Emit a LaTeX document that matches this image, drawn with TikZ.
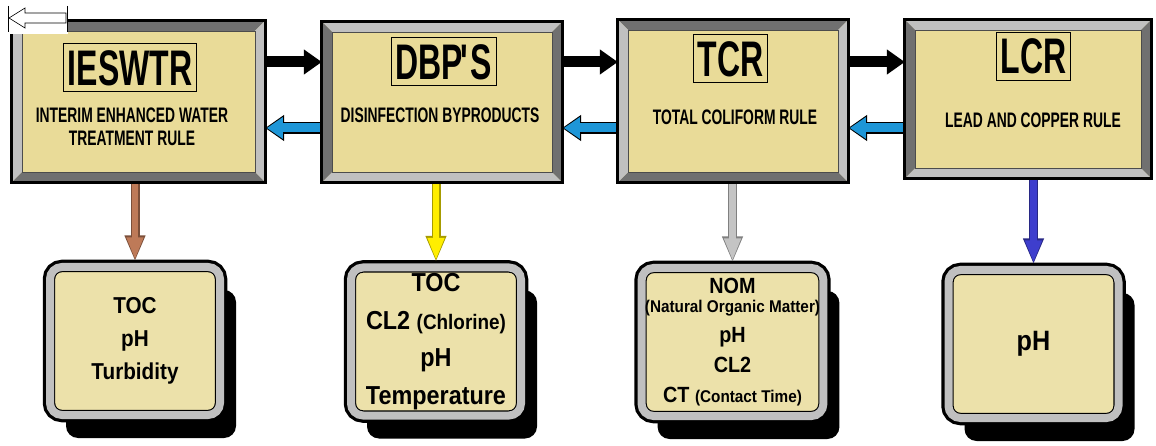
\documentclass[tikz,border=0pt]{standalone}
\usepackage{fontspec}
\setmainfont{Liberation Sans}
\newfontfamily\titlefont{Liberation Sans Bold}[FakeStretch=0.64]
\newfontfamily\rulefont{Liberation Sans Bold}[FakeStretch=0.66]
\newfontfamily\listfont{Liberation Sans Bold}[FakeStretch=0.9]
\usetikzlibrary{arrows.meta,shadows}

\definecolor{panel}{RGB}{233,219,152}
\definecolor{listpanel}{RGB}{236,225,170}
\definecolor{bevdark}{RGB}{112,112,112}
\definecolor{bevlight}{RGB}{192,192,192}
\definecolor{backblue}{RGB}{30,150,215}
\definecolor{arrbrown}{RGB}{190,122,88}
\definecolor{arryellow}{RGB}{255,238,0}
\definecolor{arrgrey}{RGB}{196,196,196}
\definecolor{arrblue}{RGB}{62,62,205}

\begin{document}
\begin{tikzpicture}[x=1pt,y=-1pt,
  rulebox/.style={fill=panel,inner sep=0pt},
  rulename/.style={draw,line width=.6pt,inner xsep=4pt,inner ysep=6pt,
    text height=36pt,text depth=0pt,font=\titlefont\fontsize{50}{50}\selectfont},
  ruletext/.style={align=center,font=\rulefont\fontsize{21}{23.5}\selectfont},
  listbox/.style={draw,line width=1.1pt,double=bevlight,double distance=8pt,
    fill=listpanel,rounded corners=12pt,align=center,
    minimum width=170pt,minimum height=148pt,
    font=\listfont\fontsize{23}{33}\selectfont,
    drop shadow={shadow xshift=16pt,shadow yshift=-23pt,fill=black,opacity=1},
    preaction={draw,line width=14.5pt}},
  fwd/.style={line width=11pt,-{Triangle[width=24pt,length=18pt]}},
  backedge/.style={line width=12pt,-{Triangle[width=25pt,length=19pt]}},
  backfill/.style={backblue,line width=9pt,shorten >=1.6pt,
    -{Triangle[width=20.5pt,length=16pt]}},
  downedge/.style={line width=9pt,shorten >=5pt,
    -{Triangle[width=19pt,length=26pt]}},
  downfill/.style={line width=6.5pt,shorten >=6.6pt,
    -{Triangle[width=15.5pt,length=22.5pt]}}]
  \useasboundingbox (0,0) rectangle (1156,446);

  % rule boxes
  \node[rulebox,minimum width=253pt,minimum height=161pt] (ies) at (138.5,101.5) {};
  \node[rulebox,minimum width=240pt,minimum height=160pt] (dbp) at (442,102) {};
  \node[rulebox,minimum width=230pt,minimum height=162pt] (tcr) at (733,101) {};
  \node[rulebox,minimum width=246pt,minimum height=158pt] (lcr) at (1028,99) {};

  % parameter boxes
  \node[listbox] (t1) at (135,341) {TOC\\pH\\Turbidity};
  \node[listbox,font=\listfont\fontsize{26}{37.5}\selectfont] (t2) at (436,341.5)
    {TOC\\CL2 {\fontsize{21}{21}\selectfont(Chlorine)}\\pH\\Temperature};
  \node[listbox,font=\listfont\fontsize{22}{30}\selectfont] (t3) at (732.5,342)
    {NOM\\[-11pt]{\fontsize{17}{17}\selectfont(Natural Organic Matter)}\\pH\\CL2\\
     CT {\fontsize{17}{17}\selectfont(Contact Time)}};
  \node[listbox,font=\listfont\fontsize{28}{30}\selectfont] (t4) at (1033.5,344) {pH};

  \coordinate (fwdrow) at (0,62);
  \coordinate (backrow) at (0,128);
  \foreach \a/\b in {ies/dbp,dbp/tcr,tcr/lcr} {
    \draw[fwd] (\a.east |- fwdrow) -- (\b.west |- fwdrow);
    \draw[backedge] (\b.west |- backrow) -- (\a.east |- backrow);
    \draw[backfill] (\b.west |- backrow) -- (\a.east |- backrow);
  }
  \foreach \a/\b/\c in {ies/t1/arrbrown,dbp/t2/arryellow,tcr/t3/arrgrey,lcr/t4/arrblue} {
    \draw[downedge,\c!65!black] (\a.south -| \b.north) -- (\b.north);
    \draw[downfill,\c] (\a.south -| \b.north) -- (\b.north);
  }

  % bevelled frames
  \foreach \nm/\tc/\sc in {ies/bevdark/bevlight,dbp/bevlight/bevdark,
                           tcr/bevdark/bevlight,lcr/bevlight/bevdark} {
    \fill[\tc] (\nm.north west) -- (\nm.north east) -- ([shift={(-10,10)}]\nm.north east)
      -- ([shift={(10,10)}]\nm.north west) -- cycle;
    \fill[\tc] (\nm.south west) -- (\nm.south east) -- ([shift={(-10,-10)}]\nm.south east)
      -- ([shift={(10,-10)}]\nm.south west) -- cycle;
    \fill[\sc] (\nm.north west) -- (\nm.south west) -- ([shift={(10,-10)}]\nm.south west)
      -- ([shift={(10,10)}]\nm.north west) -- cycle;
    \fill[\sc] (\nm.north east) -- (\nm.south east) -- ([shift={(-10,-10)}]\nm.south east)
      -- ([shift={(-10,10)}]\nm.north east) -- cycle;
    \draw[line width=.5pt,black!70] ([shift={(10,10)}]\nm.north west)
      rectangle ([shift={(-10,-10)}]\nm.south east);
    \draw[line width=3pt] (\nm.north west) rectangle (\nm.south east);
  }

  \node[rulename] (iesN) at (130,67.5) {IESWTR};
  \node[ruletext] (iesT) at (132,127) {INTERIM ENHANCED WATER\\TREATMENT RULE};
  \node[rulename] (dbpN) at (443.5,61.5) {DBP\kern-2pt\textquotesingle\kern-2pt S};
  \node[ruletext] (dbpT) at (440,115.5) {DISINFECTION BYPRODUCTS};
  \node[rulename] (tcrN) at (730.5,58.5) {TCR};
  \node[ruletext] (tcrT) at (735,117.5) {TOTAL COLIFORM RULE};
  \node[rulename] (lcrN) at (1033.5,56) {LCR};
  \node[ruletext] (lcrT) at (1033,120) {LEAD AND COPPER RULE};

  % back button
  \fill[white] (0,0) rectangle (68,34);
  \draw[line width=.8pt] (8,6) -- (8,32) (67,6) -- (67,32);
  \draw[fill=white,line width=.6pt] (9,18) -- (25,8) -- (25,13) -- (66,13)
    -- (66,23) -- (25,23) -- (25,28) -- cycle;
\end{tikzpicture}
\end{document}
